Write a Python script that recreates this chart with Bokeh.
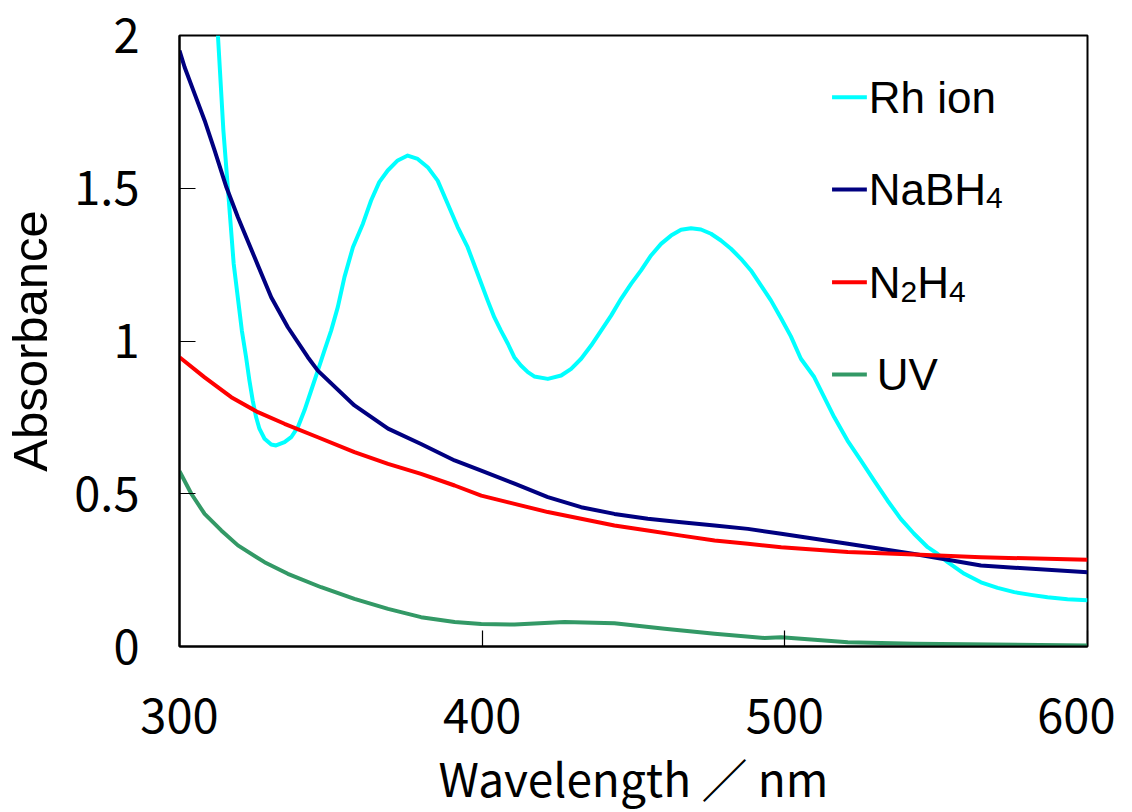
from bokeh.plotting import figure
from bokeh.models import Range1d, FixedTicker, NumeralTickFormatter
from bokeh.core.properties import value
from bokeh.embed import file_html
from bokeh.resources import INLINE

# ---------------- data ----------------
rh_x = [312.7, 314.5, 316.0, 317.9, 320.6, 322.0, 323.1, 324.2, 325.3, 326.4,
        328.1, 330.3, 331.9, 334.7, 336.9, 339.1, 341.3, 343.5, 345.7, 347.9,
        350.1, 352.3, 354.5, 357.3, 360.6, 363.3, 366.0, 368.8, 372.1, 375.4,
        378.7, 382.0, 385.3, 388.6, 391.9, 395.2, 398.5, 401.8, 404.0, 406.2,
        408.5, 410.6, 412.8, 415.1, 417.2, 421.7, 426.1, 429.4, 432.7, 436.0,
        439.3, 442.6, 445.9, 449.2, 452.5, 455.8, 459.1, 462.4, 465.7, 469.0,
        472.3, 475.6, 478.9, 482.2, 485.5, 488.8, 492.1, 495.4, 498.7, 502.0,
        505.3, 509.7, 513.0, 516.3, 520.7, 525.1, 529.5, 533.9, 538.3, 542.7,
        547.2, 550.5, 553.8, 559.3, 564.8, 570.3, 575.8, 581.3, 586.8, 593.4,
        600.0]
rh_y = [2.000, 1.689, 1.498, 1.253, 1.034, 0.947, 0.871, 0.805, 0.751, 0.713,
        0.680, 0.661, 0.658, 0.669, 0.685, 0.718, 0.773, 0.838, 0.903, 0.969,
        1.034, 1.111, 1.209, 1.307, 1.384, 1.460, 1.520, 1.558, 1.591, 1.607,
        1.596, 1.569, 1.525, 1.449, 1.373, 1.307, 1.220, 1.133, 1.078, 1.034,
        0.991, 0.947, 0.920, 0.898, 0.884, 0.876, 0.887, 0.909, 0.942, 0.985,
        1.034, 1.083, 1.138, 1.187, 1.231, 1.280, 1.318, 1.345, 1.364, 1.369,
        1.365, 1.351, 1.329, 1.302, 1.269, 1.231, 1.182, 1.133, 1.075, 1.015,
        0.942, 0.882, 0.816, 0.751, 0.674, 0.609, 0.543, 0.478, 0.418, 0.369,
        0.325, 0.303, 0.276, 0.238, 0.210, 0.192, 0.178, 0.169, 0.161, 0.155,
        0.151]

nabh4_x = [300.0, 301.7, 305.0, 308.3, 311.6, 315.5, 319.3, 324.8, 330.3, 335.8,
           342.4, 345.7, 357.8, 368.9, 379.8, 390.9, 399.7, 410.7, 421.7, 432.7,
           443.7, 454.7, 465.8, 476.8, 487.8, 498.8, 520.8, 542.8, 564.8, 600.0]
nabh4_y = [1.951, 1.896, 1.809, 1.722, 1.624, 1.503, 1.405, 1.274, 1.143, 1.045,
           0.947, 0.903, 0.789, 0.713, 0.663, 0.609, 0.576, 0.533, 0.489, 0.456,
           0.434, 0.418, 0.407, 0.396, 0.385, 0.369, 0.336, 0.303, 0.265, 0.243]

n2h4_x = [300.0, 308.3, 317.1, 325.9, 334.7, 345.7, 357.8, 368.9, 379.8, 390.9,
          399.7, 410.7, 421.7, 432.7, 443.7, 454.7, 465.8, 476.8, 487.8, 498.8,
          520.8, 542.8, 564.8, 600.0]
n2h4_y = [0.947, 0.881, 0.816, 0.767, 0.729, 0.685, 0.636, 0.598, 0.565, 0.527,
          0.494, 0.467, 0.440, 0.418, 0.396, 0.380, 0.363, 0.347, 0.336, 0.325,
          0.309, 0.301, 0.292, 0.284]

uv_x = [300.0, 303.9, 308.3, 313.8, 319.3, 328.1, 335.8, 346.8, 357.8, 368.9,
        379.8, 390.9, 399.7, 410.7, 427.2, 443.7, 460.3, 476.8, 493.3, 498.8,
        520.8, 542.8, 600.0]
uv_y = [0.574, 0.500, 0.434, 0.380, 0.331, 0.276, 0.238, 0.194, 0.156, 0.123,
        0.096, 0.080, 0.074, 0.072, 0.080, 0.076, 0.058, 0.042, 0.028, 0.030,
        0.014, 0.009, 0.003]

series_labels = ["Rh ion", "NaBH4", "N2H4", "UV"]
series_colors = ["#00FFFF", "#000080", "#FF0000", "#339966"]

x_ticks = [300, 400, 500, 600]
y_ticks = [0, 0.5, 1, 1.5, 2]
x_title = "Wavelength \uff0f nm"
y_title = "Absorbance"

# ---------------- figure ----------------
p = figure(frame_width=908, frame_height=611,
           min_border_left=178, min_border_top=35, min_border_right=28, min_border_bottom=165,
           x_range=Range1d(300, 600), y_range=Range1d(0, 2),
           output_backend="svg", toolbar_location=None, tools="")
p.background_fill_color = "white"
p.border_fill_color = "white"
p.xgrid.visible = False
p.ygrid.visible = False
p.outline_line_color = "black"
p.outline_line_width = 2
p.outline_line_alpha = 1

tick_font = "Noto Sans CJK JP"
for ax in (p.xaxis[0], p.yaxis[0]):
    ax.axis_line_color = "black"
    ax.axis_line_width = 2
    ax.major_tick_in = 16
    ax.major_tick_out = 0
    ax.major_tick_line_color = "black"
    ax.major_tick_line_width = 1.2
    ax.minor_tick_in = 0
    ax.minor_tick_out = 0
    ax.major_label_text_font = tick_font
    ax.major_label_text_font_size = "47px"
    ax.major_label_text_color = "black"
    ax.axis_label_text_color = "black"
    ax.axis_label_text_font_style = "normal"

p.xaxis.ticker = FixedTicker(ticks=x_ticks)
p.yaxis.ticker = FixedTicker(ticks=y_ticks)
p.yaxis.formatter = NumeralTickFormatter(format="0.[0]")
p.xaxis.major_label_standoff = 52
p.yaxis.major_label_standoff = 40

p.xaxis.axis_label = x_title
p.xaxis.axis_label_text_font = "Noto Sans CJK JP"
p.xaxis.axis_label_text_font_size = "46px"
p.xaxis.axis_label_standoff = 8

p.yaxis.axis_label = y_title
p.yaxis.axis_label_text_font = "Liberation Sans"
p.yaxis.axis_label_text_font_size = "49px"
p.yaxis.axis_label_standoff = 14

# ---------------- curves ----------------
all_x = [rh_x, nabh4_x, n2h4_x, uv_x]
all_y = [rh_y, nabh4_y, n2h4_y, uv_y]
for xs, ys, c in zip(all_x, all_y, series_colors):
    p.line(xs, ys, line_color=c, line_width=4, line_join="round")

# ---------------- legend (manual, with subscripts) ----------------
LEG_X0, LEG_X1 = 515.6, 527.1
LEG_TX = 527.7
LEG_Y = [1.798, 1.496, 1.192, 0.890]
MAIN_FS = "44px"
SUB_FS = "30px"
font = value("Liberation Sans")

p.segment(x0=[LEG_X0] * 4, x1=[LEG_X1] * 4, y0=LEG_Y, y1=LEG_Y,
          line_color=series_colors, line_width=4)

def txt(t, y, dx, dy, fs):
    p.text(x=[LEG_TX], y=[y], text=[t], text_font=font, text_font_size=fs,
           text_color="black", text_baseline="alphabetic", text_align="left",
           x_offset=dx, y_offset=dy)

# Rh ion
txt("Rh ion", LEG_Y[0], 0, 0, MAIN_FS)
# NaBH4
txt("NaBH", LEG_Y[1], 0, 0, MAIN_FS)
txt("4", LEG_Y[1], 117.4, 9, SUB_FS)
# N2H4
txt("N", LEG_Y[2], 0, 0, MAIN_FS)
txt("2", LEG_Y[2], 31.8, 10, SUB_FS)
txt("H", LEG_Y[2], 48.5, 0, MAIN_FS)
txt("4", LEG_Y[2], 80.3, 10, SUB_FS)
# UV
txt("UV", LEG_Y[3], 8, 0, MAIN_FS)

open("out.html", "w").write(file_html(p, INLINE))
